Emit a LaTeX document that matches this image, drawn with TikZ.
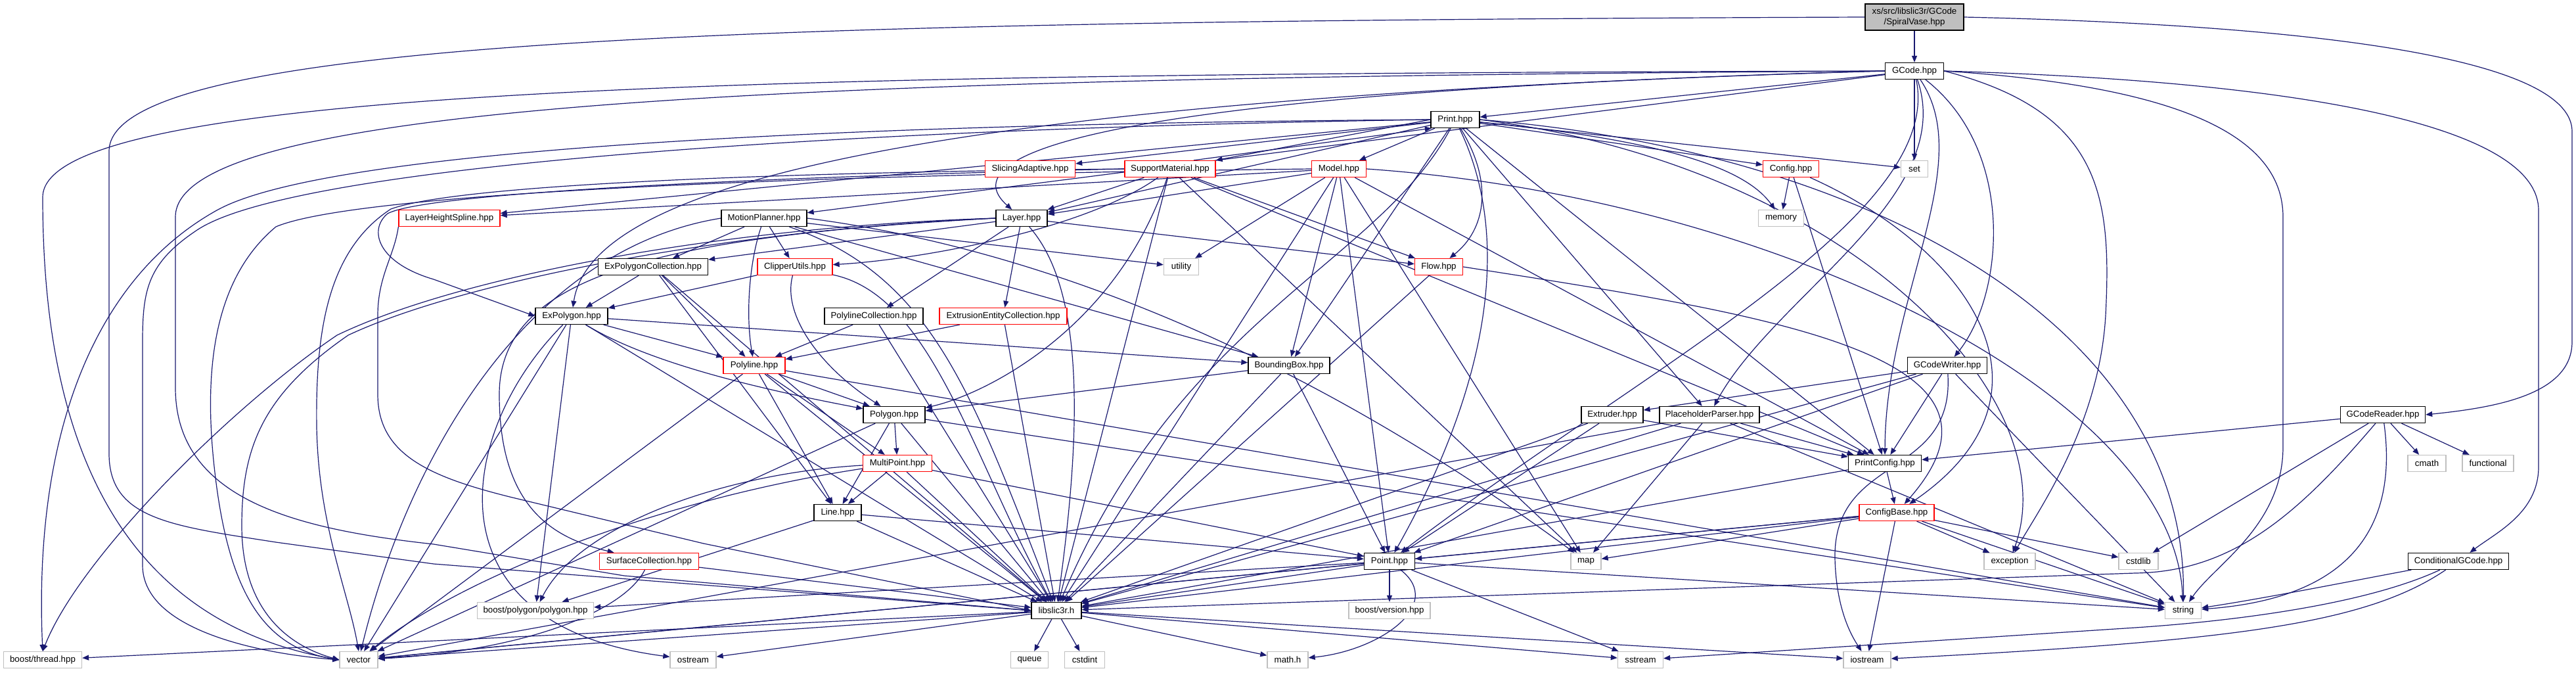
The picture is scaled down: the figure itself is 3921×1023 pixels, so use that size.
\documentclass[tikz,border=0pt]{standalone}
\usepackage{fontspec}
\setmainfont{Liberation Sans}
\usetikzlibrary{arrows.meta,backgrounds}
\definecolor{mblue}{HTML}{191970}
\definecolor{nred}{HTML}{FF0000}
\definecolor{ngray}{HTML}{BFBFBF}
\begin{document}
\begin{tikzpicture}[x=1pt,y=-1pt,
  nbase/.style={draw, rectangle, fill=white, minimum height=25pt, inner sep=0pt, line width=1.3pt, font=\fontsize{13.3}{16}\selectfont},
  nk/.style={nbase, draw=black},
  nr/.style={nbase, draw=nred},
  ng/.style={nbase, draw=ngray},
  edg/.style={draw=mblue, line width=1.2pt, -{Triangle[length=10pt,width=8pt]}}]
\useasboundingbox (0,0) rectangle (3921,1023);
% row 1-2
\node[nk, fill=ngray, minimum width=150pt, minimum height=40pt, align=center] (sv) at (2914,26) {xs/src/libslic3r/GCode\\/SpiralVase.hpp};
\node[nk, minimum width=89pt] (gcode) at (2914,108) {GCode.hpp};
\node[nk, minimum width=74pt] (print) at (2215,182) {Print.hpp};
% row 257
\node[nr, minimum width=137pt] (slic) at (1568,257) {SlicingAdaptive.hpp};
\node[nr, minimum width=138pt] (supp) at (1781,257) {SupportMaterial.hpp};
\node[nr, minimum width=83pt] (model) at (2038,257) {Model.hpp};
\node[nr, minimum width=85pt] (config) at (2726,257) {Config.hpp};
\node[ng, minimum width=41pt] (nset) at (2914,257) {set};
% row 332
\node[nr, minimum width=154pt] (lhs) at (684,332) {LayerHeightSpline.hpp};
\node[nk, minimum width=130pt] (motion) at (1163,332) {MotionPlanner.hpp};
\node[nk, minimum width=78pt] (layer) at (1555,332) {Layer.hpp};
\node[ng, minimum width=69pt] (memory) at (2711,332) {memory};
% row 406
\node[nk, minimum width=167pt] (expc) at (994,406) {ExPolygonCollection.hpp};
\node[nr, minimum width=114pt] (clip) at (1210,406) {ClipperUtils.hpp};
\node[ng, minimum width=53pt] (utility) at (1798,406) {utility};
\node[nr, minimum width=73pt] (flow) at (2190,406) {Flow.hpp};
% row 481
\node[nk, minimum width=110pt] (expoly) at (870,481) {ExPolygon.hpp};
\node[nk, minimum width=150pt] (plc) at (1330,481) {PolylineCollection.hpp};
\node[nr, minimum width=194pt] (eec) at (1527,481) {ExtrusionEntityCollection.hpp};
% row 556
\node[nr, minimum width=94pt] (polyline) at (1148,556) {Polyline.hpp};
\node[nk, minimum width=124pt] (bbox) at (1962,556) {BoundingBox.hpp};
\node[nk, minimum width=121pt] (gcw) at (2964,556) {GCodeWriter.hpp};
% row 631
\node[nk, minimum width=94pt] (polygon) at (1361,631) {Polygon.hpp};
\node[nk, minimum width=94pt] (extruder) at (2454,631) {Extruder.hpp};
\node[nk, minimum width=152pt] (pp) at (2602,631) {PlaceholderParser.hpp};
\node[nk, minimum width=129pt] (gcr) at (3627,631) {GCodeReader.hpp};
% row 705
\node[nr, minimum width=105pt] (mpoint) at (1366,705) {MultiPoint.hpp};
\node[nk, minimum width=111pt] (pconf) at (2869,705) {PrintConfig.hpp};
\node[ng, minimum width=58pt] (cmath) at (3694,705) {cmath};
\node[ng, minimum width=78pt] (functional) at (3787,705) {functional};
% row 780
\node[nk, minimum width=72pt] (nline) at (1275,780) {Line.hpp};
\node[nr, minimum width=114pt] (cbase) at (2887,780) {ConfigBase.hpp};
% row 854
\node[nr, minimum width=151pt] (surf) at (988,854) {SurfaceCollection.hpp};
\node[nk, minimum width=77pt] (point) at (2115,854) {Point.hpp};
\node[ng, minimum width=46pt] (nmap) at (2414,854) {map};
\node[ng, minimum width=78pt] (exception) at (3059,854) {exception};
\node[ng, minimum width=60pt] (cstdlib) at (3255,854) {cstdlib};
\node[nk, minimum width=153pt] (cond) at (3742,854) {ConditionalGCode.hpp};
% row 929
\node[ng, minimum width=177pt] (bpoly) at (815,929) {boost/polygon/polygon.hpp};
\node[nk, minimum width=76pt] (lib) at (1608,929) {libslic3r.h};
\node[ng, minimum width=124pt] (bver) at (2115,929) {boost/version.hpp};
\node[ng, minimum width=55pt] (nstring) at (3323,929) {string};
% row 1004
\node[ng, minimum width=119pt] (bthread) at (65,1004) {boost/thread.hpp};
\node[ng, minimum width=58pt] (vector) at (546,1004) {vector};
\node[ng, minimum width=70pt] (ostream) at (1055,1004) {ostream};
\node[ng, minimum width=57pt] (queue) at (1567,1004) {queue};
\node[ng, minimum width=61pt] (cstdint) at (1651,1004) {cstdint};
\node[ng, minimum width=62pt] (mathh) at (1960,1004) {math.h};
\node[ng, minimum width=69pt] (sstream) at (2497,1004) {sstream};
\node[ng, minimum width=72pt] (iostream) at (2842,1004) {iostream};

\begin{scope}[on background layer]
\fill[white] (0,0) rectangle (3921,1023);
\foreach \a/\b in {sv/gcode,
 gcode/print, gcode/nset, gcode/motion,
 print/slic, print/model, print/config, print/nset, print/lhs, print/layer, print/bbox, print/pp, print/pconf,
 model/lhs, model/layer, model/utility, model/point, model/bbox, model/pconf, model/nmap, model/lib,
 supp/layer, supp/flow, supp/pconf, supp/nmap, supp/lib,
 layer/flow, layer/plc, layer/eec, layer/expc,
 motion/expc, motion/clip, motion/utility, motion/bbox,
 config/memory, config/pconf,
 expc/expoly, expc/nline, expc/polyline, expc/lib,
 clip/expoly, flow/lib, plc/polyline, plc/lib, eec/polyline, eec/lib,
 expoly/polyline, expoly/bbox, expoly/lib, expoly/vector, expoly/bpoly,
 polyline/nline, polyline/mpoint, polyline/polygon, polyline/lib, polyline/vector, polyline/nstring,
 bbox/polygon, bbox/point, bbox/lib,
 gcw/point, gcw/extruder, gcw/pconf, gcw/nstring, gcw/lib,
 polygon/mpoint, polygon/nline, polygon/lib, polygon/vector, polygon/nstring,
 extruder/point, extruder/lib, extruder/pconf,
 pp/nmap, pp/nstring, pp/pconf, pp/lib, pp/vector,
 gcr/pconf, gcr/cstdlib, gcr/cmath, gcr/functional,
 mpoint/nline, mpoint/point, mpoint/lib,
 pconf/cbase, pconf/lib,
 nline/point, nline/lib, nline/bpoly,
 cbase/exception, cbase/cstdlib, cbase/iostream, cbase/nstring, cbase/vector, cbase/nmap, cbase/point, cbase/lib,
 surf/lib,
 point/lib, point/vector, point/nstring, point/sstream, point/bver, point/bpoly,
 lib/ostream, lib/iostream, lib/mathh, lib/queue, lib/sstream, lib/cstdint, lib/vector, lib/bthread}
 \draw[edg] (\a) -- (\b);
% pairs and curves
\draw[edg] (print.west) -- (supp.north east);
\draw[edg] (supp.20) -- (print.200);
\draw[edg] (print) .. controls (2275,280) and (2260,350) .. (flow);
\draw[edg] (print) .. controls (2320,400) and (2230,650) .. (point);
\draw[edg] (print) .. controls (2100,400) and (1800,480) .. (lib);
\draw[edg] (print) .. controls (2550,215) and (2660,260) .. (memory);
\draw[edg] (print.east) .. controls (2800,250) and (3150,600) .. (exception);
\draw[edg] (print.east) .. controls (2850,230) and (3330,500) .. (nstring);
\draw[edg] (print.west) .. controls (1300,195) and (450,250) .. (300,350) .. controls (225,400) and (217,440) .. (217,520) -- (217,860) .. controls (217,960) and (400,995) .. (vector.west);
\draw[edg] (print.west) .. controls (1300,188) and (500,225) .. (330,320) .. controls (150,420) and (50,650) .. (bthread.north);
\draw[edg] (gcode.west) .. controls (1700,140) and (1440,230) .. (layer);
\draw[edg] (gcode.west) .. controls (1400,150) and (900,280) .. (expoly);
\draw[edg] (gcode) .. controls (2960,330) and (2500,560) .. (point);
\draw[edg] (gcode) .. controls (3010,250) and (2870,450) .. (pconf);
\draw[edg] (gcode) .. controls (2980,300) and (2700,450) .. (pp);
\draw[edg] (gcode) .. controls (3070,230) and (3050,450) .. (gcw);
\draw[edg] (gcode.east) .. controls (3200,170) and (3214,300) .. (3205,480) .. controls (3195,650) and (3100,780) .. (exception);
\draw[edg] (gcode.east) .. controls (3300,130) and (3475,200) .. (3475,330) -- (3475,680) .. controls (3475,800) and (3370,860) .. (nstring);
\draw[edg] (gcode.east) .. controls (3550,125) and (3864,200) .. (3864,320) -- (3864,710) .. controls (3864,780) and (3800,810) .. (cond);
\draw[edg] (gcode.west) .. controls (1200,112) and (65,130) .. (65,300) .. controls (65,620) and (150,940) .. (vector.west);
\draw[edg] (gcode.west) .. controls (1300,118) and (267,150) .. (267,330) -- (267,590) .. controls (267,760) and (450,805) .. (660,828) -- (950,876) -- (lib.west);
\draw[edg] (sv.west) .. controls (1200,32) and (166,55) .. (166,230) -- (166,690) .. controls (166,790) and (260,800) .. (420,825) -- (660,858) -- (lib.west);
\draw[edg] (sv.east) .. controls (3600,40) and (3915,100) .. (3915,200) -- (3915,520) .. controls (3915,600) and (3800,620) .. (gcr.east);
\draw[edg] (model.east) .. controls (2700,300) and (3310,600) .. (nstring);
\draw[edg] (model.west) .. controls (1300,265) and (550,290) .. (420,345) .. controls (330,420) and (310,550) .. (325,700) .. controls (345,900) and (400,985) .. (vector.west);
\draw[edg] (supp) .. controls (1650,350) and (1400,395) .. (clip);
\draw[edg] (supp) .. controls (1700,500) and (1500,600) .. (polygon);
\draw[edg] (supp.west) .. controls (1200,268) and (650,292) .. (590,325) .. controls (560,350) and (575,400) .. (660,425) -- (expoly.west);
\draw[edg] (supp.west) .. controls (1200,262) and (700,280) .. (595,318) .. controls (500,380) and (480,500) .. (482,650) .. controls (485,800) and (530,900) .. (vector.north);
\draw[edg] (layer.west) .. controls (1000,360) and (760,420) .. (760,600) .. controls (760,780) and (850,820) .. (surf);
\draw[edg] (layer) .. controls (1660,450) and (1640,700) .. (lib);
\draw[edg] (layer.west) .. controls (1100,345) and (700,420) .. (513,510) .. controls (350,620) and (120,850) .. (bthread.north);
\draw[edg] (layer.west) .. controls (1100,350) and (700,430) .. (530,510) .. controls (400,600) and (368,680) .. (368,800) .. controls (368,920) and (430,980) .. (vector.west);
\draw[edg] (motion) .. controls (1140,400) and (1135,480) .. (polyline);
\draw[edg] (motion.east) .. controls (1600,380) and (2000,550) .. (nmap);
\draw[edg] (motion) .. controls (1420,420) and (1480,600) .. (lib);
\draw[edg] (motion.west) .. controls (800,380) and (620,700) .. (vector);
\draw[edg] (lhs.south west) .. controls (600,390) and (575,420) .. (575,480) -- (575,600) .. controls (575,690) and (650,725) .. (780,757) -- (1071,827) -- (lib.west);
\draw[edg] (config) .. controls (3000,380) and (3150,600) .. (cbase);
\draw[edg] (flow.east) .. controls (2700,480) and (3100,540) .. (cbase);
\draw[edg] (clip) .. controls (1190,480) and (1250,560) .. (polygon);
\draw[edg] (clip) .. controls (1420,450) and (1480,700) .. (lib);
\draw[edg] (expoly) .. controls (1000,560) and (1200,600) .. (polygon);
\draw[edg] (expoly) .. controls (700,650) and (640,950) .. (ostream);
\draw[edg] (mpoint) .. controls (1100,720) and (880,800) .. (bpoly);
\draw[edg] (mpoint) .. controls (1000,760) and (700,880) .. (vector);
\draw[edg] (surf) .. controls (950,930) and (800,990) .. (vector);
\draw[edg] (gcw) .. controls (2975,730) and (2790,690) .. (2793,850) .. controls (2795,930) and (2820,970) .. (iostream);
\draw[edg] (gcr) .. controls (3500,780) and (3400,870) .. (3250,872) -- (lib);
\draw[edg] (gcr) .. controls (3650,800) and (3580,910) .. (nstring);
\draw[edg] (cond) .. controls (3600,880) and (3450,910) .. (nstring);
\draw[edg] (cond) .. controls (3600,920) and (3400,945) .. (3250,955) -- (sstream);
\draw[edg] (cond) .. controls (3600,950) and (3400,975) .. (iostream);
\draw[edg] (point) .. controls (2200,920) and (2100,990) .. (mathh);
\end{scope}
\end{tikzpicture}
\end{document}
